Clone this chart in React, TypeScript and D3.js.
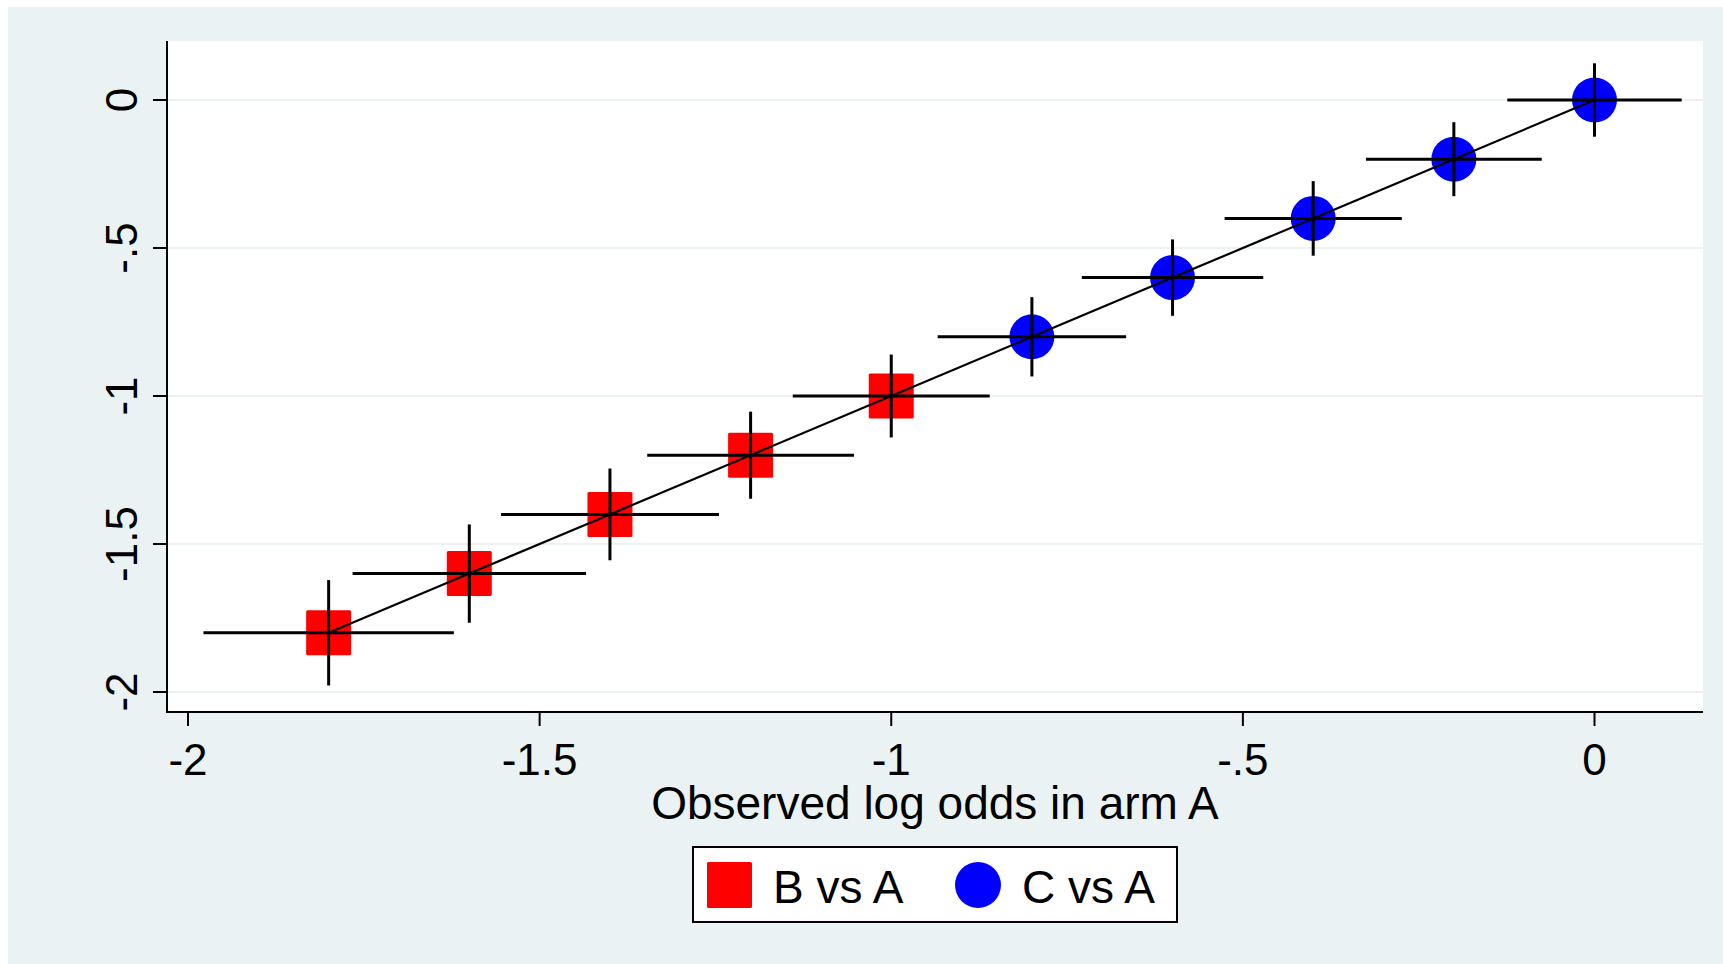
import * as d3 from "d3";

// Observed log odds in arm A (x) and the fitted value (y) for each comparison
const bObserved = [-1.8, -1.6, -1.4, -1.2, -1.0];
const bFitted = [-1.8, -1.6, -1.4, -1.2, -1.0];
const bHalfCI = [0.178, 0.166, 0.155, 0.147, 0.14];

const cObserved = [-0.8, -0.6, -0.4, -0.2, 0];
const cFitted = [-0.8, -0.6, -0.4, -0.2, 0];
const cHalfCI = [0.134, 0.129, 0.126, 0.125, 0.124];

const xTicks = [-2, -1.5, -1, -0.5, 0];
const xTickLabels = ["-2", "-1.5", "-1", "-.5", "0"];
const yTicks = [0, -0.5, -1, -1.5, -2];
const yTickLabels = ["0", "-.5", "-1", "-1.5", "-2"];

const seriesNames = ["B vs A", "C vs A"];

const W = 1723;
const H = 964;
const plot = { left: 167, right: 1703, top: 41, bottom: 712 };
const bg = "#eaf2f3";
const font = "'Liberation Sans', Arial, sans-serif";

export default function App() {
  const x = d3.scaleLinear().domain([-2, 0]).range([188, 1594.5]);
  const y = d3.scaleLinear().domain([0, -2]).range([100, 692]);

  const bPts = bObserved.map((v, i) => ({ x: v, y: bFitted[i], h: bHalfCI[i] }));
  const cPts = cObserved.map((v, i) => ({ x: v, y: cFitted[i], h: cHalfCI[i] }));
  const all = [...bPts, ...cPts];

  const line = d3
    .line<{ x: number; y: number }>()
    .x((d) => x(d.x))
    .y((d) => y(d.y));

  const sq = 45;

  return (
    <svg
      width={W}
      height={H}
      style={{ position: "absolute", left: 0, top: 0 }}
      fontFamily={font}
    >
      <rect x={0} y={0} width={W} height={H} fill="#fff" />
      <rect x={8} y={7} width={W - 8} height={H - 7} fill={bg} />
      <rect
        x={plot.left}
        y={plot.top}
        width={plot.right - plot.left}
        height={plot.bottom - plot.top}
        fill="#fff"
      />

      {/* gridlines */}
      {yTicks.map((t) => (
        <line
          key={"g" + t}
          x1={plot.left}
          x2={plot.right}
          y1={y(t)}
          y2={y(t)}
          stroke={bg}
          strokeWidth={2}
        />
      ))}

      {/* markers */}
      {bPts.map((d, i) => (
        <rect
          key={"b" + i}
          x={x(d.x) - sq / 2}
          y={y(d.y) - sq / 2}
          width={sq}
          height={sq}
          rx={1.5}
          fill="#ff0000"
        />
      ))}
      {cPts.map((d, i) => (
        <circle key={"c" + i} cx={x(d.x)} cy={y(d.y)} r={sq / 2} fill="#0000ff" />
      ))}

      {/* fitted line */}
      <path d={line(all) ?? ""} fill="none" stroke="#000" strokeWidth={2.2} />

      {/* error bars */}
      {all.map((d, i) => (
        <g key={"e" + i} stroke="#000" strokeWidth={3}>
          <line x1={x(d.x - d.h)} x2={x(d.x + d.h)} y1={y(d.y)} y2={y(d.y)} />
          <line x1={x(d.x)} x2={x(d.x)} y1={y(d.y + d.h)} y2={y(d.y - d.h)} />
        </g>
      ))}

      {/* axes */}
      <line x1={plot.left} x2={plot.left} y1={plot.top} y2={plot.bottom + 1} stroke="#000" strokeWidth={2} />
      <line x1={plot.left - 1} x2={plot.right} y1={plot.bottom} y2={plot.bottom} stroke="#000" strokeWidth={2} />

      {yTicks.map((t, i) => (
        <g key={"yt" + t}>
          <line x1={plot.left - 14} x2={plot.left} y1={y(t)} y2={y(t)} stroke="#000" strokeWidth={2} />
          <text
            transform={`translate(${137},${y(t)}) rotate(-90)`}
            textAnchor="middle"
            fontSize={44}
          >
            {yTickLabels[i]}
          </text>
        </g>
      ))}

      {xTicks.map((t, i) => (
        <g key={"xt" + t}>
          <line x1={x(t)} x2={x(t)} y1={plot.bottom} y2={plot.bottom + 14} stroke="#000" strokeWidth={2} />
          <text x={x(t)} y={775} textAnchor="middle" fontSize={44}>
            {xTickLabels[i]}
          </text>
        </g>
      ))}

      <text x={(plot.left + plot.right) / 2} y={819} textAnchor="middle" fontSize={46}>
        Observed log odds in arm A
      </text>

      {/* legend */}
      <rect x={693} y={847} width={484} height={75} fill="#fff" stroke="#000" strokeWidth={2} />
      <rect x={707} y={862} width={45} height={46} rx={1.5} fill="#ff0000" />
      <text x={773} y={903} fontSize={46}>
        {seriesNames[0]}
      </text>
      <circle cx={978} cy={885} r={23} fill="#0000ff" />
      <text x={1022} y={903} fontSize={46}>
        {seriesNames[1]}
      </text>
    </svg>
  );
}
